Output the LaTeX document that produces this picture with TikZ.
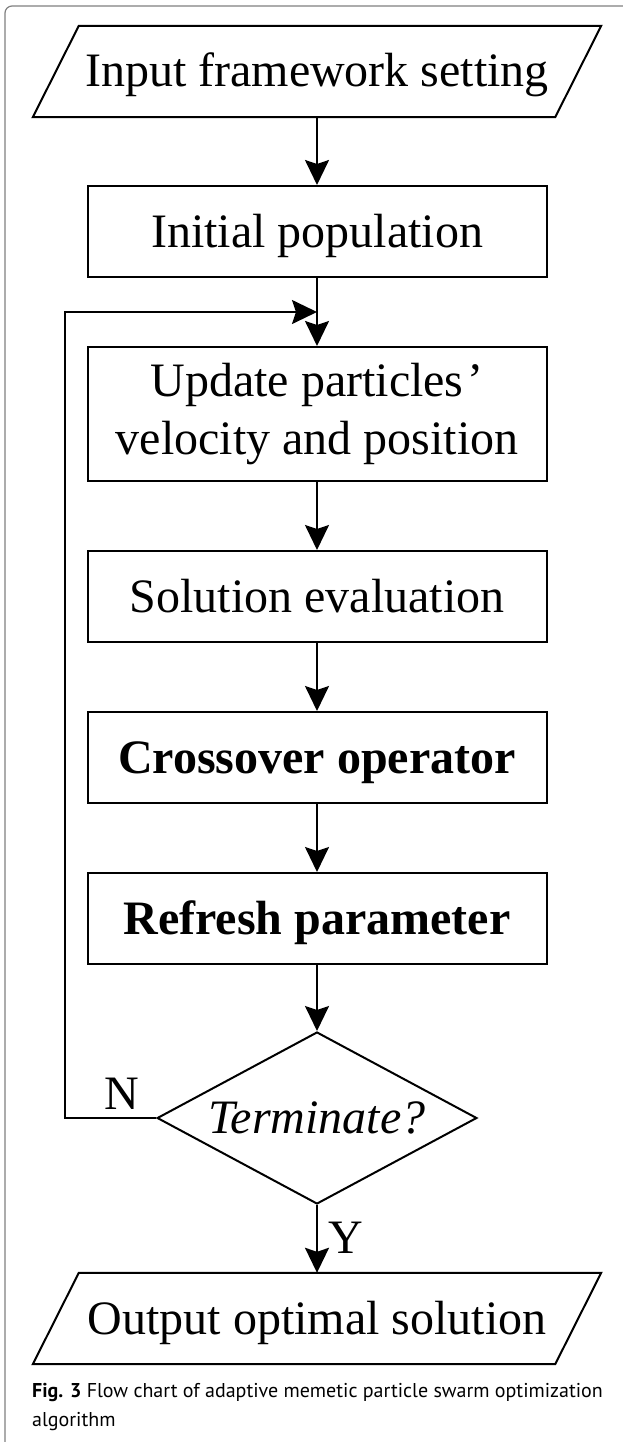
\documentclass[tikz,border=0pt]{standalone}
\usepackage{fontspec}
\setmainfont{Liberation Serif}
\newfontfamily\capfont{PT Sans}
\usetikzlibrary{arrows.meta,shapes.geometric,calc}

\begin{document}
\begin{tikzpicture}[x=1pt,y=-1pt,
  every node/.style={font={\fontsize{48}{57.6}\selectfont}},
  flow/.style={draw, line width=2pt, inner sep=0pt},
  oneline/.style={text height=43pt, text depth=12pt},
  stepbox/.style={flow, rectangle, minimum width=459pt, minimum height=91pt},
  iotext/.style={rectangle, inner sep=0pt, minimum width=522pt, minimum height=91pt, oneline},
  slanted/.style={line width=2pt, line join=miter},
  decision/.style={flow, diamond, aspect=1.87, minimum width=319pt, minimum height=172pt},
  arr/.style={line width=2pt, -{Stealth[length=25pt,width=24pt,inset=4pt]}},
  panel/.style={draw=black!50, line width=1.2pt, rounded corners=7pt},
  captext/.style={anchor=base west, inner sep=0pt, font={\capfont\fontsize{20}{29}\selectfont}}
]
\useasboundingbox (0,0) rectangle (623,1442);

% panel outline
\draw[panel] (5,1470) -- (5,6) -- (660,6);

% flow chart
\node[iotext] (in) at (317,71.5) {Input framework setting};
\node[stepbox, oneline] (init) at (317,231.5) {Initial population};
\node[stepbox, minimum height=134pt, align=center] (upd) at (317,414)
  {Update particles\kern4pt’\\velocity and position};
\node[stepbox, oneline] (sol) at (317,596.5) {Solution evaluation};
\node[stepbox, oneline, font={\fontsize{48}{57.6}\selectfont\bfseries}] (cross) at (317,757.5) {Crossover operator};
\node[stepbox, oneline, font={\fontsize{48}{57.6}\selectfont\bfseries}] (ref) at (317,918.5) {Refresh parameter};
\node[decision, oneline, font={\fontsize{48}{57.6}\selectfont\itshape}] (dec) at (317,1118) {Terminate?};
\node[iotext] (out) at (317,1318.5) {Output optimal solution};

% input/output parallelograms
\foreach \n in {in,out}
  \draw[slanted] ($(\n.north west)+(23,0)$) -- ($(\n.north east)+(23,0)$)
    -- ($(\n.south east)+(-23,0)$) -- ($(\n.south west)+(-23,0)$) -- cycle;

\coordinate (merge) at (317,312);
\coordinate (loopcorner) at (65,312);

\draw[arr] (in.south) -- (init.north);
\draw[arr] (init.south) -- (upd.north);
\draw[arr] (upd.south) -- (sol.north);
\draw[arr] (sol.south) -- (cross.north);
\draw[arr] (cross.south) -- (ref.north);
\draw[arr] (ref.south) -- (dec.north);
\draw[arr] (dec.south) -- (out.north);
\draw[arr] (dec.west) -- (dec.west -| loopcorner) -- (loopcorner) -- (merge);

\node (nlab) at (122,1094) {N};
\node (ylab) at (346,1238) {Y};

% caption
\node[captext] (cap1) at (32,1397) {\textbf{Fig. 3} Flow chart of adaptive memetic particle swarm optimization};
\node[captext] (cap2) at (32,1426) {algorithm};
\end{tikzpicture}
\end{document}
